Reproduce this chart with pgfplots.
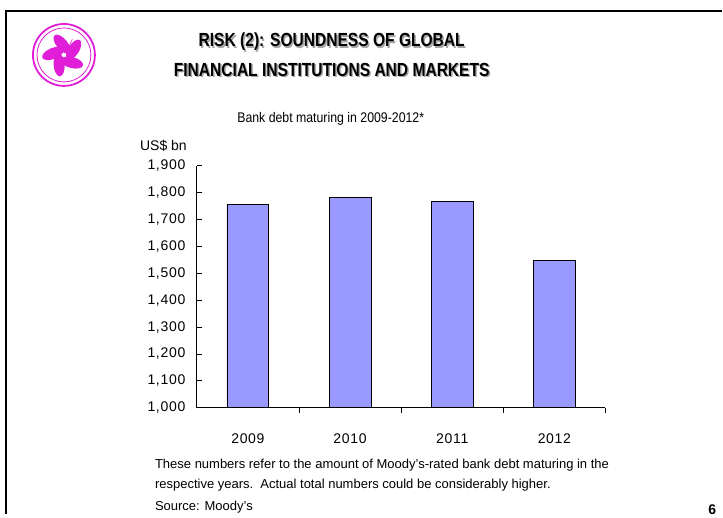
\documentclass[border=0pt]{standalone}
\usepackage{pgfplots}
\pgfplotsset{compat=1.18}
\usepackage{fontspec}
\setmainfont{Liberation Sans}
\newfontfamily\titlefont[FakeStretch=0.82]{Liberation Sans}
\newfontfamily\subfont[FakeStretch=0.88]{Liberation Sans}
\newfontfamily\tickfont[LetterSpace=5]{Liberation Sans}
\definecolor{barblue}{RGB}{153,153,255}
\definecolor{hkpink}{RGB}{225,30,215}
\begin{document}
\begin{tikzpicture}[x=1pt,y=1pt]
% page 723 x 514, y measured upward from the bottom
\path[fill=white] (0,0) rectangle (723,514);
\draw[line width=1.3pt] (6,0) -- (6,503) -- (723,503);
% logo
\draw[hkpink, line width=1.8pt] (64,459) circle (31);
\draw[hkpink, line width=0.8pt] (64,459) circle (27);
\foreach \a in {100,172,244,316,28}{
  \fill[hkpink] (64,459) ++(\a:11) ellipse[x radius=11.5, y radius=5.5, rotate=\a+30];
}
\foreach \a in {35,50,65}{
  \draw[hkpink, line width=0.6pt] (66,461) -- ++(\a:15);
}
% title
\foreach \dx/\dy/\c in {1.4/-1.4/gray!70, 0/0/black}{
  \node[font=\titlefont\fontsize{19}{22}\selectfont\bfseries, text=\c] at (332+\dx,472+\dy) {RISK (2): SOUNDNESS OF GLOBAL};
  \node[font=\titlefont\fontsize{19}{22}\selectfont\bfseries, text=\c] at (332+\dx,444+\dy) {FINANCIAL INSTITUTIONS AND MARKETS};
}
\node[font=\subfont\fontsize{14}{16}\selectfont] at (331,395) {Bank debt maturing in 2009-2012*};
\node[font=\fontsize{14}{16}\selectfont, anchor=west, inner sep=0pt] at (140,368) {US\$ bn};
\begin{axis}[
  at={(197pt,106pt)}, anchor=south west,
  scale only axis, width=409pt, height=242pt,
  axis x line*=bottom, axis y line*=left,
  axis line style={line width=1.1pt},
  xmin=-0.5, xmax=3.5, ymin=1000, ymax=1900,
  xtick={0,1,2,3}, xticklabels={2009,2010,2011,2012},
  major x tick style={draw=none},
  minor xtick={0.5,1.5,2.5,3.5},
  minor tick length=5pt,
  ytick={1000,1100,...,1900},
  major tick length=5pt,
  tick align=inside,
  tick style={black, line width=0.8pt},
  /pgf/number format/.cd, 1000 sep={,}, assume math mode=true,
  /pgfplots/.cd,
  ticklabel style={font=\tickfont\fontsize{14}{16}\selectfont},
  yticklabel style={xshift=-8pt},
  xticklabel style={yshift=-18pt},
  ybar, bar width=0.41, bar shift=0pt,
  clip=false,
]
\addplot[fill=barblue, draw=black, line width=0.8pt] coordinates {
  (0,1755) (1,1782) (2,1766) (3,1547)
};
\end{axis}
\node[font=\fontsize{13}{15}\selectfont, anchor=west, inner sep=0pt] at (155,48) {These numbers refer to the amount of Moody's-rated bank debt maturing in the};
\node[font=\fontsize{13}{15}\selectfont, anchor=west, inner sep=0pt] at (155,28) {respective years.\ \ Actual total numbers could be considerably higher.};
\node[font=\fontsize{13}{15}\selectfont, anchor=west, inner sep=0pt] at (155,6) {Source: Moody's};
\node[font=\fontsize{14}{16}\selectfont\bfseries] at (713,4) {6};
\end{tikzpicture}
\end{document}
